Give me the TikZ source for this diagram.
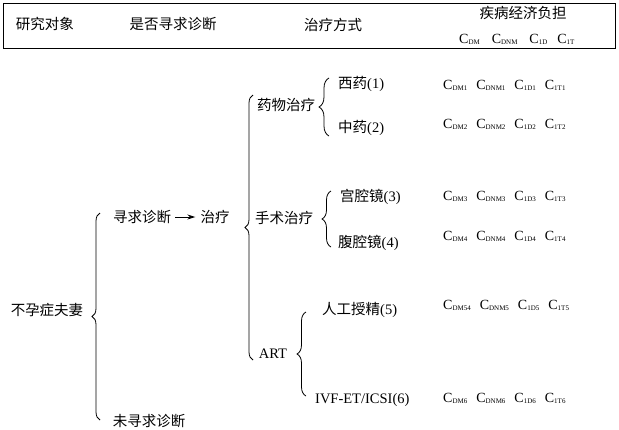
\documentclass[tikz,border=0pt]{standalone}
\usepackage{fontspec}
\setmainfont{Liberation Serif}
\newfontfamily\cjk{Noto Sans CJK SC}
\usetikzlibrary{decorations.pathreplacing,arrows.meta}
\newcommand{\cc}[1]{C\raisebox{-1.5pt}{\fontsize{7}{8}\selectfont #1}}
\newcommand{\crowtext}[4]{\cc{#1}\hspace{9pt}\cc{#2}\hspace{9pt}\cc{#3}\hspace{9pt}\cc{#4}}
\begin{document}
\begin{tikzpicture}[x=1pt,y=-1pt,
  lbl/.style={inner sep=0pt, font=\fontsize{14.5}{16}\selectfont\cjk},
  lat/.style={inner sep=0pt, font=\fontsize{14.5}{16}\selectfont},
  crow/.style={inner sep=0pt, anchor=base west, font=\fontsize{14}{16}\selectfont},
  brc/.style={decorate, decoration={brace, amplitude=#1}, line width=0.8pt},
  brc/.default=8pt,
  arr/.style={-{Stealth[length=8pt,width=5pt]}, line width=0.9pt, shorten <=4pt, shorten >=5pt}]
\useasboundingbox (0,0) rectangle (619,429);
\fill[white] (0,0) rectangle (619,429);
% header
\draw[line width=0.9pt] (3,3) rectangle (615,48);
\node[lbl] (h1) at (45,24) {研究对象};
\node[lbl] (h2) at (173,24) {是否寻求诊断};
\node[lbl] (h3) at (333,25) {治疗方式};
\node[lbl] (h4) at (523,13) {疾病经济负担};
\node[crow] (hc) at (459,43) {\cc{DM}\hspace{12pt}\cc{DNM}\hspace{12pt}\cc{1D}\hspace{10pt}\cc{1T}};
% body labels
\node[lbl] (bz) at (47,310) {不孕症夫妻};
\node[lbl] (xq) at (142,217) {寻求诊断};
\node[lbl] (zl) at (215,217) {治疗};
\node[lbl] (wx) at (149,421) {未寻求诊断};
\node[lbl] (yw) at (286,105) {药物治疗};
\node[lbl] (ss) at (284,218) {手术治疗};
\node[lat] (art) at (273,354) {ART};
\node[lat, anchor=west] (xy) at (338,84) {{\cjk 西药}(1)};
\node[lat, anchor=west] (zy) at (338,128) {{\cjk 中药}(2)};
\node[lat, anchor=west] (gq) at (340,197) {{\cjk 宫腔镜}(3)};
\node[lat, anchor=west] (fq) at (338,243) {{\cjk 腹腔镜}(4)};
\node[lat, anchor=west] (rg) at (322,310) {{\cjk 人工授精}(5)};
\node[lat, anchor=west] (ivf) at (315,400) {IVF-ET/ICSI(6)};
% cost rows
\node[crow] (c1) at (443,89) {\crowtext{DM1}{DNM1}{1D1}{1T1}};
\node[crow] (c2) at (443,128) {\crowtext{DM2}{DNM2}{1D2}{1T2}};
\node[crow] (c3) at (443,200) {\crowtext{DM3}{DNM3}{1D3}{1T3}};
\node[crow] (c4) at (443,240) {\crowtext{DM4}{DNM4}{1D4}{1T4}};
\node[crow] (c5) at (443,309) {\crowtext{DM54}{DNM5}{1D5}{1T5}};
\node[crow] (c6) at (443,402) {\crowtext{DM6}{DNM6}{1D6}{1T6}};
% brace end points
\coordinate (b1a) at (100,420); \coordinate (b1b) at (100,213);
\coordinate (b2a) at (253,360); \coordinate (b2b) at (253,95);
\coordinate (b3a) at (329,136); \coordinate (b3b) at (329,78);
\coordinate (b4a) at (331,247); \coordinate (b4b) at (331,191);
\coordinate (b5a) at (306,396); \coordinate (b5b) at (306,312);
\draw[brc] (b1a) -- (b1b);
\draw[brc] (b2a) -- (b2b);
\draw[brc=10pt] (b3a) -- (b3b);
\draw[brc=9pt] (b4a) -- (b4b);
\draw[brc=9pt] (b5a) -- (b5b);
% arrow
\draw[arr] (xq.east) -- (zl.west);
\end{tikzpicture}
\end{document}
